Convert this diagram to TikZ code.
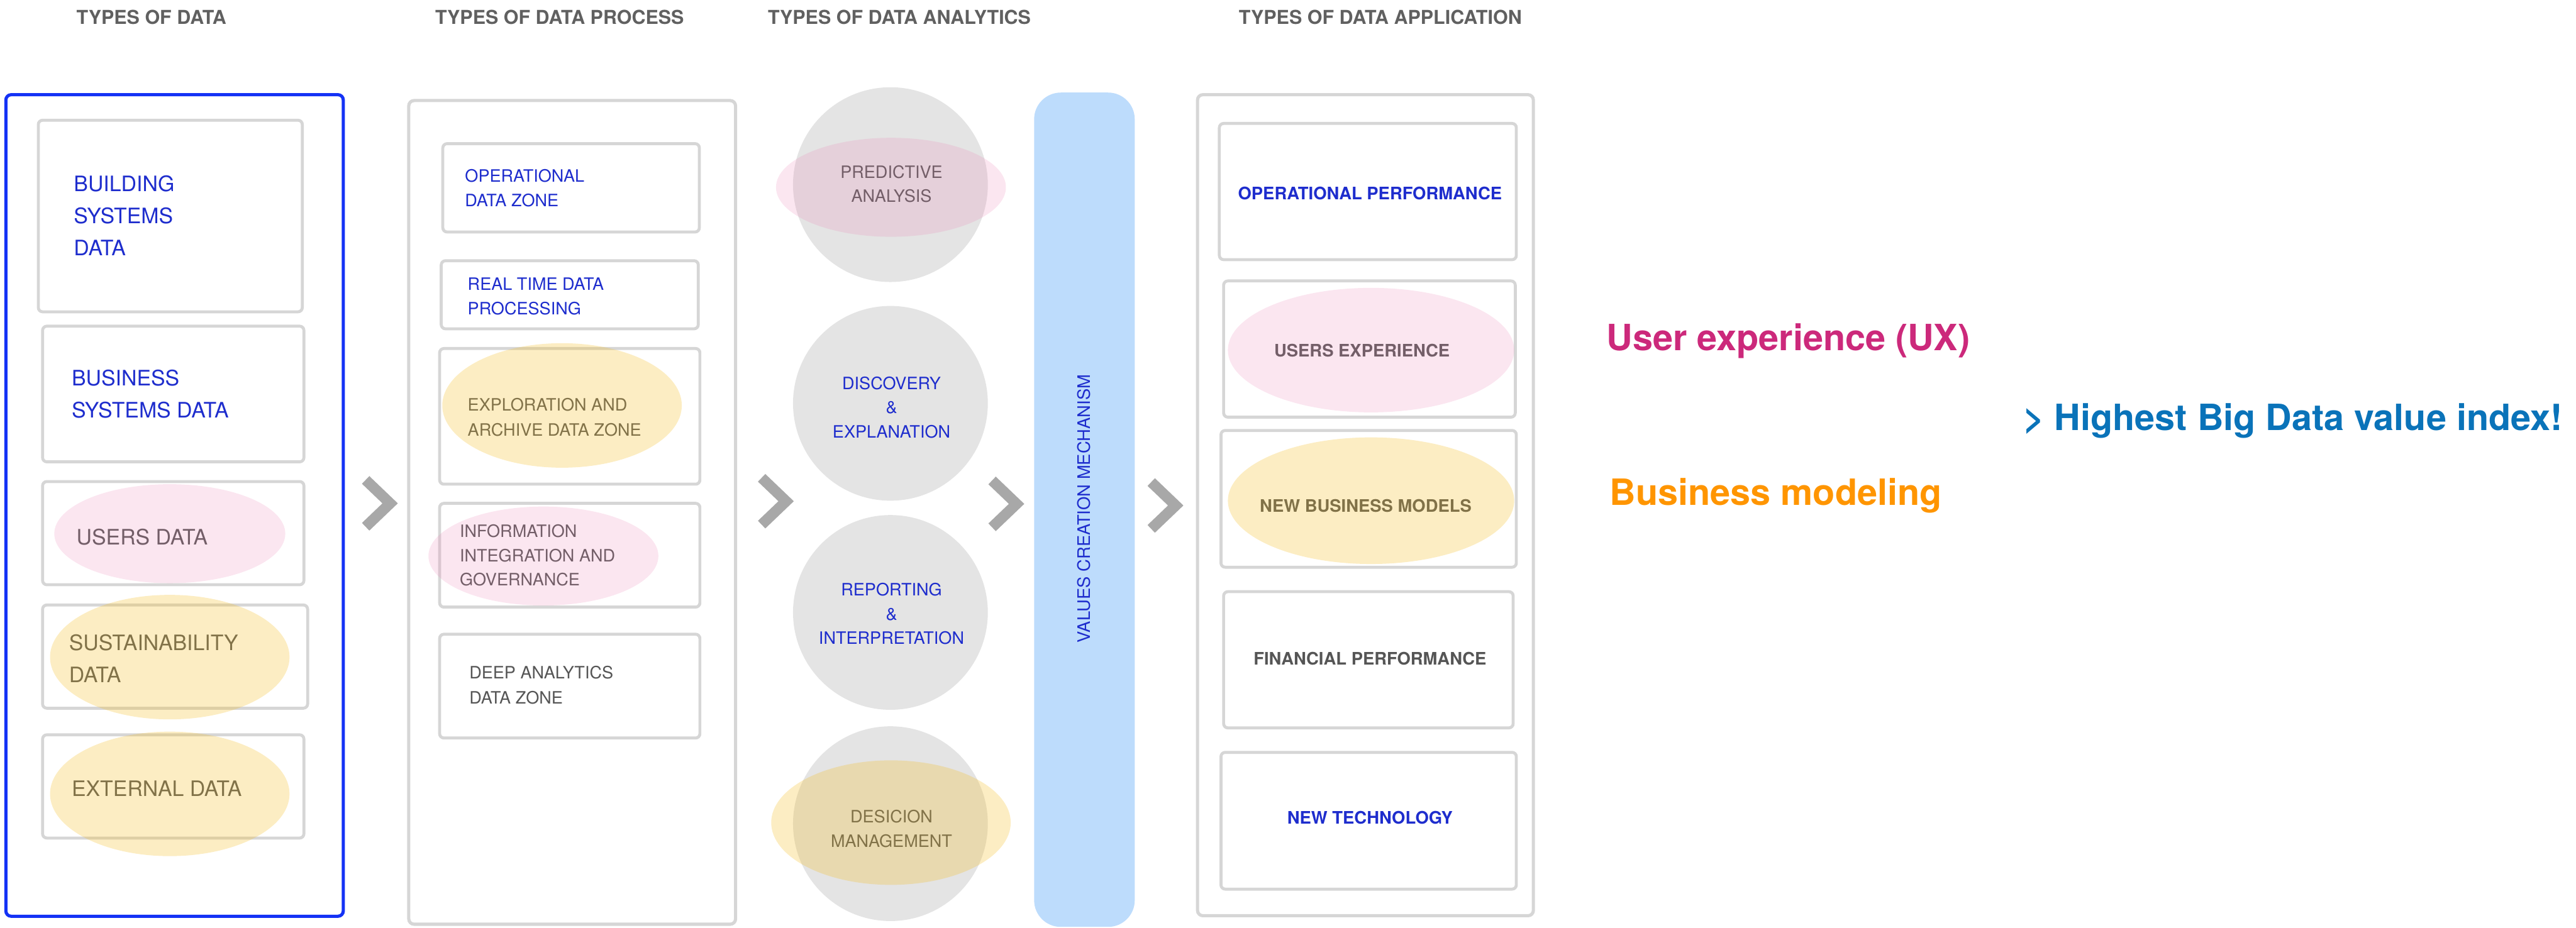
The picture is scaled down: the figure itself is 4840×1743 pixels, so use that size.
\documentclass[tikz,border=0pt]{standalone}
\usepackage{fontspec}
\setmainfont{TeX Gyre Heros}

\definecolor{boxgray}{RGB}{214,214,214}
\definecolor{frameblue}{RGB}{20,50,245}
\definecolor{headgray}{RGB}{96,96,96}
\definecolor{txtblue}{RGB}{30,45,205}
\definecolor{txtgray}{RGB}{85,85,85}
\definecolor{circgray}{RGB}{228,228,228}
\definecolor{barblue}{RGB}{189,220,252}
\definecolor{chevgray}{RGB}{168,168,168}
\definecolor{pinkov}{RGB}{235,130,180}
\definecolor{yellowov}{RGB}{245,190,40}
\definecolor{uxpink}{RGB}{204,41,123}
\definecolor{hiblue}{RGB}{10,115,185}
\definecolor{bizorange}{RGB}{255,149,0}

\begin{document}
\begin{tikzpicture}[x=0.25pt,y=-0.25pt,
  panel/.style={draw=boxgray, line width=1.5pt, rounded corners=2.5pt},
  cell/.style={draw=boxgray, line width=1.4pt, rounded corners=2pt},
  heading/.style={font=\fontsize{9pt}{11pt}\selectfont\bfseries, text=headgray, inner sep=0pt, anchor=base west},
  c1txt/.style={font=\fontsize{10pt}{15.1pt}\selectfont, inner sep=0pt, anchor=north west, align=left},
  c2txt/.style={font=\fontsize{8pt}{11.7pt}\selectfont, inner sep=0pt, anchor=north west, align=left},
  c3txt/.style={font=\fontsize{8pt}{11.4pt}\selectfont, inner sep=0pt, anchor=north, align=center},
  c4txt/.style={font=\fontsize{8.1pt}{10pt}\selectfont\bfseries, inner sep=0pt, anchor=base},
  note/.style={font=\fontsize{17pt}{20pt}\selectfont\bfseries, inner sep=0pt, anchor=base west},
  hlpink/.style={fill=pinkov, fill opacity=0.2},
  hlyellow/.style={fill=yellowov, fill opacity=0.28},
  chev/.pic={\draw[chevgray, line width=5pt, line join=miter, line cap=butt] (-23,-44) -- (23,0) -- (-23,44);}
]
\useasboundingbox (0,0) rectangle (4840,1743);

% column headings
\node[heading] (h1) at (143,45) {TYPES OF DATA};
\node[heading] (h2) at (817,45) {TYPES OF DATA PROCESS};
\node[heading] (h3) at (1442,45) {TYPES OF DATA ANALYTICS};
\node[heading] (h4) at (2327,45) {TYPES OF DATA APPLICATION};

% column frames
\draw[panel, draw=frameblue] (11,178) rectangle (645,1722);
\draw[panel] (768,189) rectangle (1382,1737);
\draw[panel] (2250,178) rectangle (2881,1721);

% data sources
\draw[cell] (72,226) rectangle (568,586);
\draw[cell] (80,613) rectangle (571,868);
\draw[cell] (80,905) rectangle (571,1099);
\draw[cell] (80,1137) rectangle (578,1331);
\draw[cell] (80,1381) rectangle (571,1575);

% processing zones
\draw[cell] (832,270) rectangle (1314,436);
\draw[cell] (829,490) rectangle (1312,618);
\draw[cell] (826,655) rectangle (1315,910);
\draw[cell] (826,946) rectangle (1315,1141);
\draw[cell] (826,1192) rectangle (1315,1387);

% applications
\draw[cell] (2291,232) rectangle (2849,488);
\draw[cell] (2299,528) rectangle (2847,784);
\draw[cell] (2294,809) rectangle (2849,1066);
\draw[cell] (2299,1112) rectangle (2843,1368);
\draw[cell] (2294,1414) rectangle (2849,1671);

% analytics discs
\fill[circgray] (1673,347) circle[radius=183];
\fill[circgray] (1673,758) circle[radius=183];
\fill[circgray] (1673,1151) circle[radius=183];
\fill[circgray] (1673,1548) circle[radius=183];

% value creation bar
\fill[barblue, rounded corners=12.5pt] (1943,174) rectangle (2132,1742);
\node[rotate=90, inner sep=0pt, font=\fontsize{8.1pt}{10pt}\selectfont, text=txtblue] (vcm) at (2037,956) {VALUES CREATION MECHANISM};

% flow chevrons
\pic at (710,946) {chev};
\pic at (1454,942) {chev};
\pic at (1887,947) {chev};
\pic at (2186,950) {chev};

% labels, column 1
\node[c1txt, text=txtblue] (building) at (138,329) {BUILDING\\SYSTEMS\\DATA};
\node[c1txt, text=txtblue] (business) at (134,694) {BUSINESS\\SYSTEMS DATA};
\node[c1txt, text=txtgray] (users) at (143,993) {USERS DATA};
\node[c1txt, text=txtgray] (sustain) at (129,1192) {SUSTAINABILITY\\DATA};
\node[c1txt, text=txtgray] (external) at (134,1467) {EXTERNAL DATA};

% labels, column 2
\node[c2txt, text=txtblue] (opzone) at (873,317) {OPERATIONAL\\DATA ZONE};
\node[c2txt, text=txtblue] (realtime) at (878,521) {REAL TIME DATA\\PROCESSING};
\node[c2txt, text=txtgray] (explore) at (878,748) {EXPLORATION AND\\ARCHIVE DATA ZONE};
\node[c2txt, text=txtgray, font=\fontsize{8pt}{11.4pt}\selectfont] (info) at (863,985) {INFORMATION\\INTEGRATION AND\\GOVERNANCE};
\node[c2txt, text=txtgray] (deep) at (881,1251) {DEEP ANALYTICS\\DATA ZONE};

% labels, column 3
\node[c3txt, text=txtgray] (predict) at (1675,310) {PREDICTIVE\\ANALYSIS};
\node[c3txt, text=txtblue] (discover) at (1675,707) {DISCOVERY\\\&\\EXPLANATION};
\node[c3txt, text=txtblue] (report) at (1675,1095) {REPORTING\\\&\\INTERPRETATION};
\node[c3txt, text=txtgray] (decide) at (1675,1522) {DESICION\\MANAGEMENT};

% labels, column 4
\node[c4txt, text=txtblue] (opperf) at (2574,375) {OPERATIONAL PERFORMANCE};
\node[c4txt, text=txtgray] (ux) at (2559,670) {USERS EXPERIENCE};
\node[c4txt, text=txtgray] (nbm) at (2566,962) {NEW BUSINESS MODELS};
\node[c4txt, text=txtgray] (finperf) at (2574,1249) {FINANCIAL PERFORMANCE};
\node[c4txt, text=txtblue] (newtech) at (2574,1549) {NEW TECHNOLOGY};

% highlight overlays
\fill[hlpink] (319,1003) ellipse[x radius=217, y radius=93];
\fill[hlpink] (1021,1045) ellipse[x radius=216, y radius=93];
\fill[hlpink] (1674,352) ellipse[x radius=216, y radius=93];
\fill[hlpink] (2576,658) ellipse[x radius=269, y radius=117];
\fill[hlyellow] (319,1235) ellipse[x radius=225, y radius=117];
\fill[hlyellow] (319,1492) ellipse[x radius=225, y radius=117];
\fill[hlyellow] (1056,762) ellipse[x radius=225, y radius=117];
\fill[hlyellow] (1674,1546) ellipse[x radius=225, y radius=117];
\fill[hlyellow] (2576,941) ellipse[x radius=269, y radius=119];

% side notes
\node[note, text=uxpink] (uxnote) at (3018,659) {User experience (UX)};
\node[note, text=hiblue] (valuenote) at (3801,809) {> Highest Big Data value index!};
\node[note, text=bizorange] (biznote) at (3024,950) {Business modeling};
\end{tikzpicture}
\end{document}
